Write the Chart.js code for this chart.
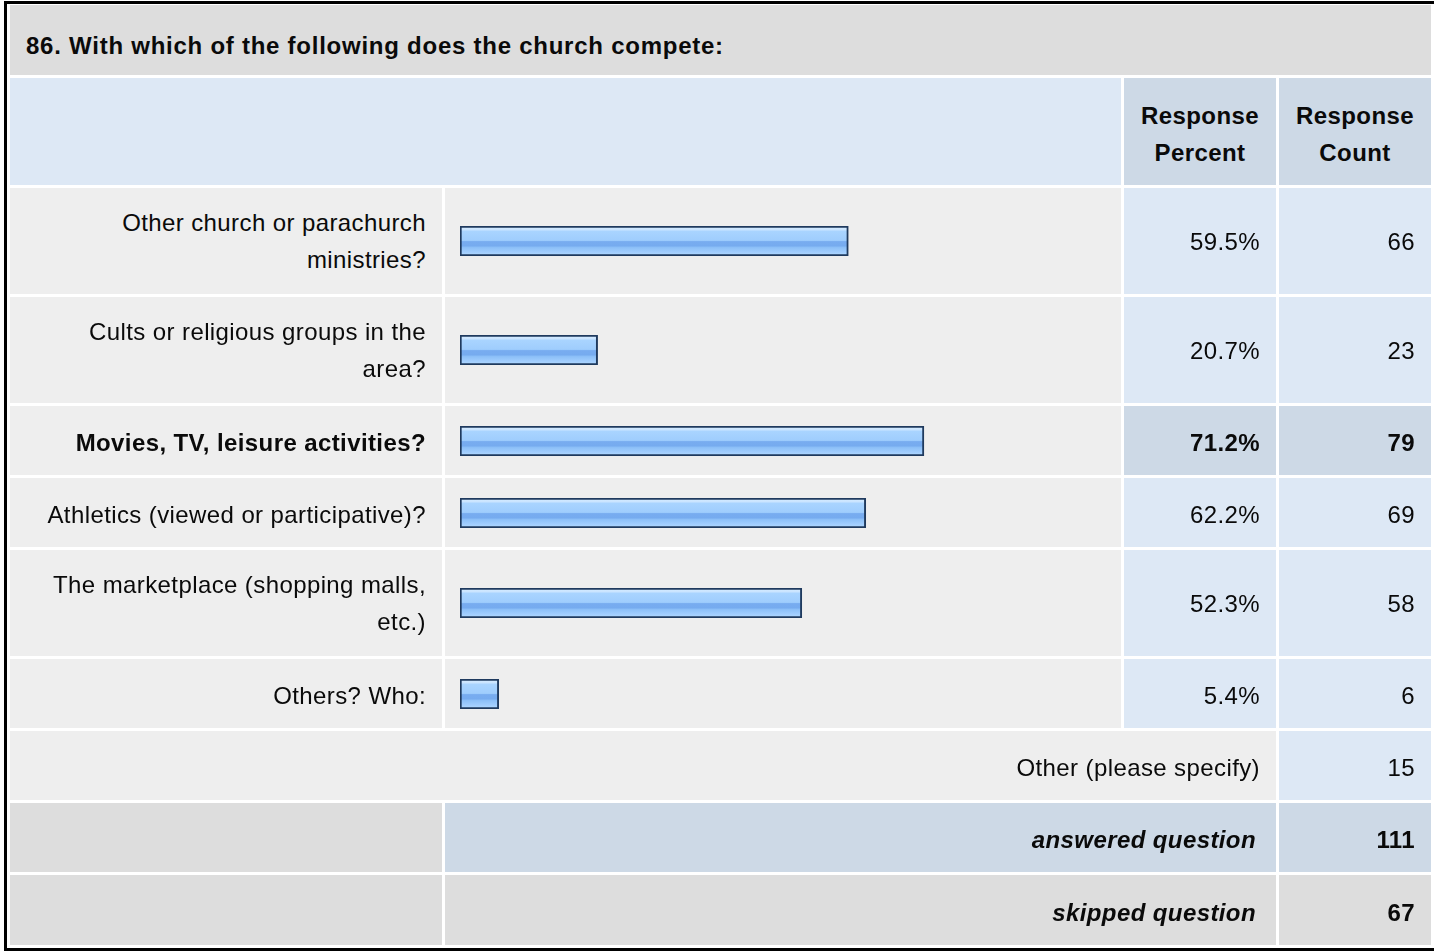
<!DOCTYPE html>
<html>
<head>
<meta charset="utf-8">
<script src="https://cdn.jsdelivr.net/npm/chart.js@4.4.1/dist/chart.umd.min.js"></script>
<style>
    html, body { margin: 0; padding: 0; background: #fff; overflow: hidden; }
    body { width: 1434px; height: 951px; position: relative; }
    #frame {
        position: absolute; left: 4px; top: 1px; width: 1440px;
        border-top: 3px solid #000; border-left: 3px solid #000; border-bottom: 3px solid #000;
    }
    table {
        border-collapse: separate; border-spacing: 3px; table-layout: fixed;
        width: 1427px; margin-top: -2px;
        font-family: "Liberation Sans", Arial, sans-serif; font-size: 24px; line-height: 37px;
        letter-spacing: 0.4px; color: #0a0a0a;
    }
    td { padding: 0 16px; box-sizing: border-box; vertical-align: middle; }
    tr.one td { padding-top: 4px; }
    tr.one td.barcell { padding-top: 0; }
    .title { background: #dddddd; font-weight: bold; letter-spacing: 0.75px; height: 70px; padding-top: 11px; }
    .head { background: #dde8f5; }
    .headcol { background: #cdd9e6; font-weight: bold; text-align: center; padding-top: 4px; }
    .label { background: #eeeeee; text-align: right; }
    .barcell { background: #eeeeee; padding: 0 11px 0 15px; line-height: 0; }
    .num { background: #dde8f5; text-align: right; }
    .hl { background: #cdd9e6; font-weight: bold; }
    .strong { font-weight: bold; }
    .grey { background: #dddddd; }
    .sumlabel { text-align: right; font-weight: bold; font-style: italic; padding-right: 20px; }
    .sumval { text-align: right; font-weight: bold; }
    .blue { background: #cdd9e6; }
</style>
</head>
<body>
<div id="frame">
    <table>
        <colgroup>
            <col style="width: 432px">
            <col style="width: 676px">
            <col style="width: 152px">
            <col style="width: 152px">
        </colgroup>
        <tbody id="tbodySurvey"></tbody>
    </table>
</div>

<script>
// survey question
const questionTitle = '86. With which of the following does the church compete:';

// answer choices (line breaks as in the original)
const answerLabels = [
    ['Other church or parachurch', 'ministries?'],
    ['Cults or religious groups in the', 'area?'],
    ['Movies, TV, leisure activities?'],
    ['Athletics (viewed or participative)?'],
    ['The marketplace (shopping malls,', 'etc.)'],
    ['Others? Who:'],
];
const responsePercent = [59.5, 20.7, 71.2, 62.2, 52.3, 5.4];
const responseCount = [66, 23, 79, 69, 58, 6];

// footer rows
const otherSpecifyCount = 15;
const answeredCount = 111;
const skippedCount = 67;

function createTbodySurvey(idTbody) {
    const tbody = document.getElementById(idTbody);
    const top = responsePercent.indexOf(Math.max(...responsePercent));

    let rows = `
        <tr><td class="title" colspan="4">${questionTitle}</td></tr>
        <tr>
            <td class="head" colspan="2" style="height:107px"></td>
            <td class="headcol">Response<br>Percent</td>
            <td class="headcol">Response<br>Count</td>
        </tr>`;

    answerLabels.forEach((label, i) => {
        const single = label.length === 1;
        const h = single ? 69 : 106;
        const bold = i === top ? ' strong' : '';
        const numCls = i === top ? 'num hl' : 'num';
        rows += `
        <tr class="${single ? 'one' : 'two'}">
            <td class="label${bold}" style="height:${h}px">${label.join('<br>')}</td>
            <td class="barcell"><canvas id="bar-${i}" width="650" height="30"></canvas></td>
            <td class="${numCls}">${responsePercent[i].toFixed(1)}%</td>
            <td class="${numCls}">${responseCount[i]}</td>
        </tr>`;
    });

    rows += `
        <tr class="one">
            <td class="label" colspan="3" style="height:69px">Other (please specify)</td>
            <td class="num">${otherSpecifyCount}</td>
        </tr>
        <tr class="one">
            <td class="grey" style="height:69px"></td>
            <td class="blue sumlabel" colspan="2">answered question</td>
            <td class="blue sumval">${answeredCount}</td>
        </tr>
        <tr class="one">
            <td class="grey" style="height:70px"></td>
            <td class="grey sumlabel" colspan="2">skipped question</td>
            <td class="grey sumval">${skippedCount}</td>
        </tr>`;

    tbody.innerHTML = rows;
}

function barGradient(context) {
    const chart = context.chart;
    const area = chart.chartArea;
    if (!area) {
        return '#9ccbfc';
    }
    const g = chart.ctx.createLinearGradient(0, area.top, 0, area.bottom);
    g.addColorStop(0.00, '#d6ecff');
    g.addColorStop(0.12, '#cbe5ff');
    g.addColorStop(0.18, '#a9d4ff');
    g.addColorStop(0.48, '#9fcdfd');
    g.addColorStop(0.52, '#78acf0');
    g.addColorStop(0.66, '#76abef');
    g.addColorStop(0.72, '#8dc0f8');
    g.addColorStop(0.86, '#9fccfd');
    g.addColorStop(1.00, '#b4daff');
    return g;
}

function createBarChart(idChart, value) {
    const ctx = document.getElementById(idChart).getContext('2d');

    // small offset so the border sits outside the zero line, as in the original
    const start = -0.6;

    return new Chart(ctx, {
        type: 'bar',
        data: {
            labels: [''],
            datasets: [{
                data: [value],
                base: start,
                backgroundColor: barGradient,
                borderColor: '#1f3a5e',
                borderWidth: 2,
                borderSkipped: false,
                categoryPercentage: 1,
                barPercentage: 1,
            }]
        },
        options: {
            indexAxis: 'y',
            responsive: false,
            devicePixelRatio: 1,
            animation: false,
            layout: { padding: 0 },
            plugins: {
                legend: { display: false },
                tooltip: { enabled: false },
            },
            scales: {
                x: { min: start, max: 100, display: false },
                y: { display: false },
            },
        }
    });
}

createTbodySurvey('tbodySurvey');
responsePercent.forEach((value, i) => createBarChart(`bar-${i}`, value));
</script>
</body>
</html>
